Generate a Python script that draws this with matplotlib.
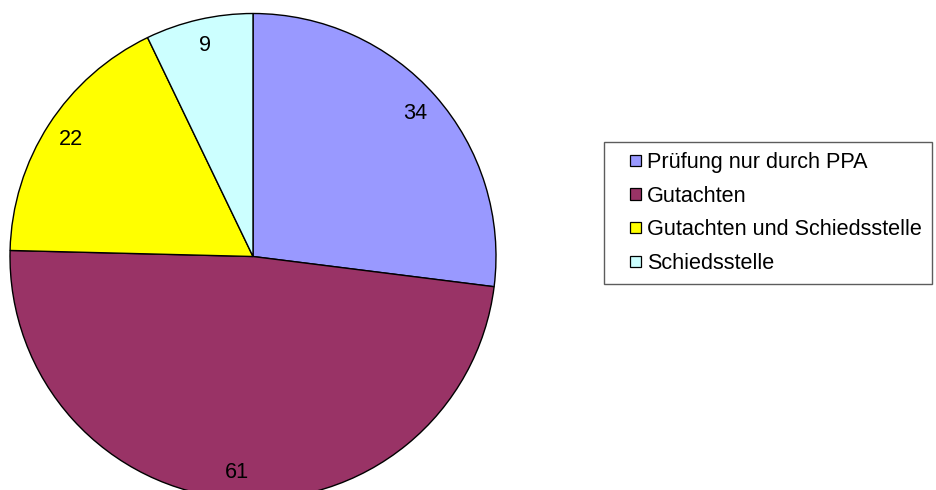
import matplotlib
matplotlib.use("Agg")
import matplotlib.pyplot as plt
from matplotlib.patches import Rectangle
from matplotlib.legend_handler import HandlerPatch

categories = ["Prüfung nur durch PPA", "Gutachten", "Gutachten und Schiedsstelle", "Schiedsstelle"]
values = [34, 61, 22, 9]
colors = ["#9999FF", "#993366", "#FFFF00", "#CCFFFF"]

plt.rcParams['font.family'] = ['Liberation Sans', 'DejaVu Sans']
FS = 15.6

W, H = 936, 490
fig = plt.figure(figsize=(W / 100, H / 100), dpi=100)

cx, cy, r = 253.0, 256.5, 243.0
ax = fig.add_axes([(cx - r) / W, (H - cy - r) / H, 2 * r / W, 2 * r / H])
wedges, texts = ax.pie(values, colors=colors, startangle=90, counterclock=False,
                       labels=[str(v) for v in values], labeldistance=0.89,
                       wedgeprops=dict(edgecolor="black", linewidth=1.0),
                       textprops=dict(fontsize=FS, color="black"))
for t in texts:
    t.set_ha("center")
    t.set_va("center")
ax.set_xlim(-1.0, 1.0)
ax.set_ylim(-1.0, 1.0)
ax.set_aspect("auto")
ax.axis("off")


def make_square(legend, orig_handle, xdescent, ydescent, width, height, fontsize):
    s = fontsize * 0.52
    return Rectangle((-xdescent + width - s, -ydescent + (height - s) / 2), s, s)


handles = [Rectangle((0, 0), 1, 1, facecolor=c, edgecolor="black", linewidth=0.9) for c in colors]
leg = fig.legend(handles, categories, loc="upper left",
                 bbox_to_anchor=(604 / W, 1 - 142 / H), bbox_transform=fig.transFigure,
                 fontsize=FS, frameon=True, fancybox=False, borderpad=0.45,
                 labelspacing=0.59, handlelength=1.25, handleheight=0.7,
                 handletextpad=0.3, borderaxespad=0.0,
                 handler_map={Rectangle: HandlerPatch(patch_func=make_square)})
fr = leg.get_frame()
fr.set_edgecolor("#333333")
fr.set_linewidth(1.0)
fr.set_facecolor("white")

fig.savefig("out.png", dpi=100)
